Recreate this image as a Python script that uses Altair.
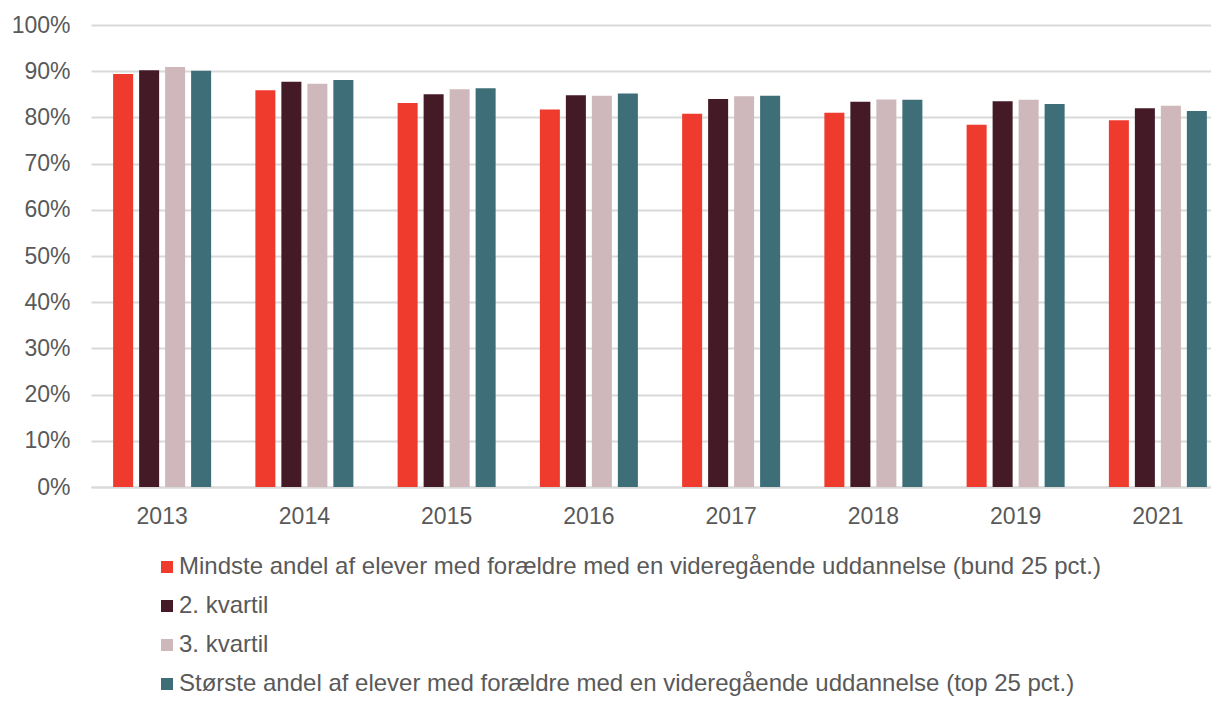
import altair as alt
import pandas as pd

years = ["2013", "2014", "2015", "2016", "2017", "2018", "2019", "2021"]
series = [
    "Mindste andel af elever med forældre med en videregående uddannelse (bund 25 pct.)",
    "2. kvartil",
    "3. kvartil",
    "Største andel af elever med forældre med en videregående uddannelse (top 25 pct.)",
]
colors = ["#EE3B2E", "#441A26", "#CFB8BB", "#3E6E78"]

s1 = [0.894, 0.859, 0.831, 0.817, 0.808, 0.810, 0.784, 0.794]
s2 = [0.902, 0.877, 0.850, 0.848, 0.840, 0.834, 0.835, 0.820]
s3 = [0.909, 0.873, 0.861, 0.847, 0.846, 0.839, 0.838, 0.825]
s4 = [0.901, 0.881, 0.863, 0.852, 0.847, 0.838, 0.829, 0.814]

rows = []
for name, vals in zip(series, [s1, s2, s3, s4]):
    for y, v in zip(years, vals):
        rows.append({"year": y, "series": name, "value": v})
df = pd.DataFrame(rows)

FONT = "Liberation Sans"
TXT = "#595959"

chart = alt.Chart(df).mark_bar().encode(
    x=alt.X("year:N", sort=years, title=None,
            scale=alt.Scale(paddingInner=0.311, paddingOuter=0.1555, range=[0, 1138]),
            axis=alt.Axis(labelAngle=0, labelFontSize=23, labelColor=TXT,
                          labelFont=FONT, labelPadding=18, ticks=False,
                          domainColor="#D9D9D9", domainWidth=2)),
    xOffset=alt.XOffset("series:N", sort=series,
                        scale=alt.Scale(paddingInner=0.23, paddingOuter=0)),
    y=alt.Y("value:Q", title=None,
            scale=alt.Scale(domain=[0, 1]),
            axis=alt.Axis(format=".0%", values=[i / 10 for i in range(11)],
                          labelFontSize=23, labelColor=TXT, labelFont=FONT,
                          labelPadding=21, ticks=False, domain=False,
                          gridColor="#D9D9D9", gridWidth=2)),
    color=alt.Color("series:N", sort=series,
                    scale=alt.Scale(domain=series, range=colors),
                    legend=alt.Legend(title=None, orient="none", legendX=64, legendY=530,
                                      direction="vertical", symbolType="square",
                                      symbolSize=144, symbolStrokeWidth=0,
                                      labelFontSize=24, labelColor=TXT,
                                      labelFont=FONT, labelOffset=0,
                                      rowPadding=15, labelLimit=1200)),
).properties(
    width=1120, height=462,
    autosize=alt.AutoSizeParams(type="none"),
    padding={"left": 83, "top": 17, "right": 0, "bottom": 211},
    background="white",
).configure_view(stroke=None)

chart.save("out.html", embed_options={"renderer": "svg", "actions": False})
